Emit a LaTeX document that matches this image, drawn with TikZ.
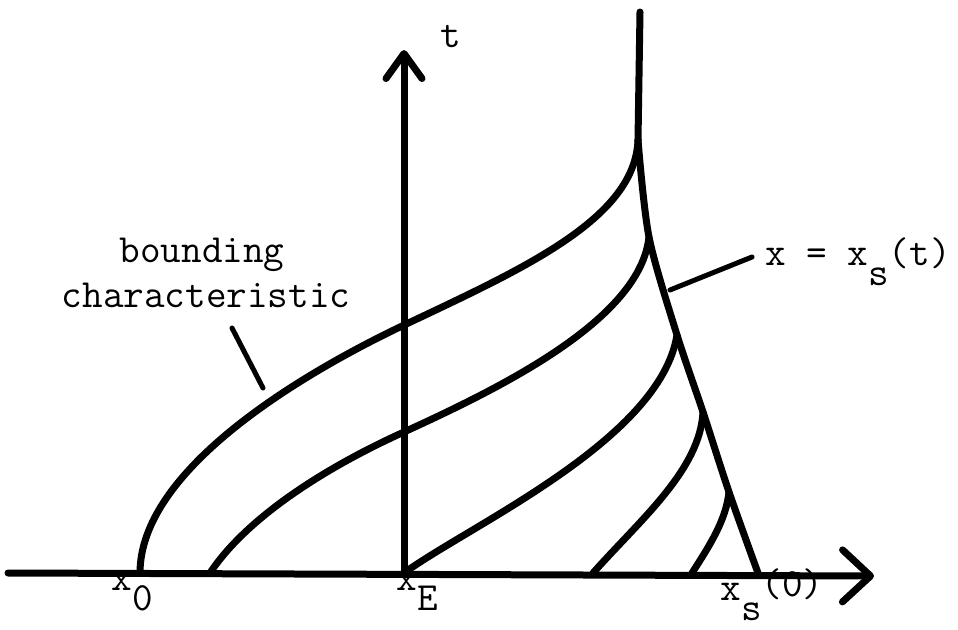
\documentclass[tikz,border=0pt]{standalone}
\usepackage{fontspec}
\usetikzlibrary{arrows.meta}

\tikzset{
  curve/.style={line width=7pt,line cap=round,line join=round},
  leader/.style={line width=5pt,line cap=round},
  lab/.style={font=\ttfamily\fontsize{40}{45}\selectfont,inner sep=0pt},
}
\newcommand{\lowsub}[1]{\raisebox{-0.5em}{#1}}

\begin{document}
\begin{tikzpicture}[x=1pt,y=-1pt]
\useasboundingbox (0,0) rectangle (958,629);
% axes
\coordinate (left) at (8,573);
\coordinate (right) at (874,576);
\coordinate (xO) at (140,573);
\coordinate (xE) at (404,573);
\coordinate (xS) at (758,573);
\coordinate (ttop) at (404,50);
\draw[curve,-{Straight Barb[length=28pt,width=52pt,round]}] (left) -- (right);
\draw[curve,-{Straight Barb[length=25pt,width=36pt,round]}] (xE) -- (ttop);
% shock and the points where the characteristics meet it
\coordinate (stop) at (640,12);
\coordinate (s1) at (638,140);
\coordinate (s2) at (649,237);
\coordinate (s3) at (677,335);
\coordinate (s4) at (703,412);
\coordinate (s5) at (729,492);
\draw[curve] (stop) -- (s1);
\draw[curve] plot[smooth,tension=0.5] coordinates {(s1) (s2) (s3) (s4) (s5) (xS)};
% characteristics
\draw[curve] (xO) .. controls (140,470) and (300,375) .. (400,327)
  .. controls (520,270) and (635,220) .. (s1);
\draw[curve] (210,573) .. controls (245,520) and (320,470) .. (404,432)
  .. controls (500,388) and (640,320) .. (s2);
\draw[curve] (xE) .. controls (470,525) and (660,440) .. (s3);
\draw[curve] (593,573) .. controls (640,520) and (700,470) .. (s4);
\draw[curve] (692,573) .. controls (710,545) and (726,520) .. (s5);
% labels
\node[lab,anchor=base] (tlab) at (451,47) {t};
\node[lab,anchor=base] (bclabA) at (202,262) {bounding};
\node[lab,anchor=base] (bclabB) at (206,307) {characteristic};
\node[lab,anchor=base west] (shocklab) at (765,265) {x = x\lowsub{s}(t)};
\node[lab,anchor=base] (x0lab) at (132,590) {x\lowsub{0}};
\node[lab,anchor=base] (xElab) at (417,590) {x\lowsub{E}};
\node[lab,anchor=base] (xslab) at (772,600) {x\lowsub{s}\raisebox{4pt}{(0)}};
% leaders
\coordinate (bcA) at (232,328);
\coordinate (bcB) at (263,388);
\draw[leader] (bcA) -- (bcB);
\coordinate (shA) at (670,290);
\coordinate (shB) at (752,257);
\draw[leader] (shA) -- (shB);
\end{tikzpicture}
\end{document}
